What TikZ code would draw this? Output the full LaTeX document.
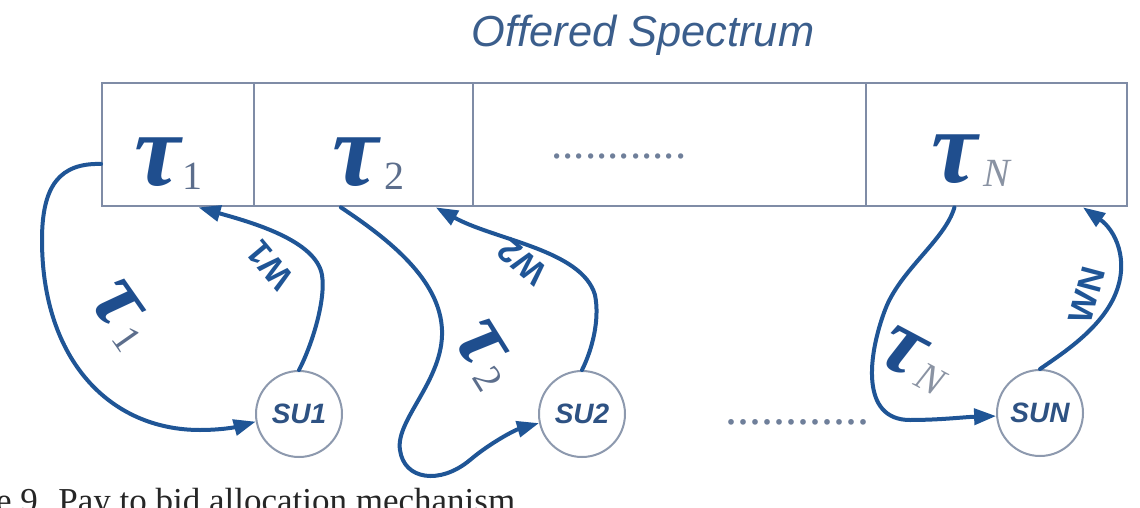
\documentclass[tikz,border=0pt]{standalone}
\usepackage{fontspec}
\setmainfont{Liberation Serif}
\setsansfont{Liberation Sans}
\usetikzlibrary{arrows.meta}
\definecolor{arrc}{HTML}{1F5596}
\definecolor{tauc}{HTML}{1F4E8E}
\definecolor{titlec}{HTML}{3B5E8C}
\definecolor{boxc}{HTML}{7F8CA6}
\definecolor{circc}{HTML}{8D99AE}
\definecolor{subc}{HTML}{5C6E8C}
\definecolor{subn}{HTML}{8A93A3}
\definecolor{suc}{HTML}{2E5283}
\definecolor{dotc}{HTML}{6F7F9A}
\newcommand\mysub[2][subc]{{\normalfont\fontsize{20}{20}\selectfont\color{#1}\raisebox{-2pt}{#2}}}
\begin{document}
\begin{tikzpicture}[x=0.5pt,y=-0.5pt,
  cell/.style={draw=boxc, line width=1.2pt, minimum height=61.5pt, inner sep=0pt, anchor=north west},
  taut/.style={text=tauc, font=\fontsize{52}{52}\selectfont\bfseries\itshape, inner sep=0pt},
  taulab/.style={text=tauc, font=\fontsize{46}{46}\selectfont\bfseries\itshape, inner sep=0pt},
  wlab/.style={text=arrc, font=\sffamily\bfseries\fontsize{17}{17}\selectfont, inner sep=0pt},
  su/.style={circle, draw=circc, line width=1pt, minimum size=43pt, inner sep=0pt, fill=white,
    text=suc, font=\sffamily\bfseries\itshape\fontsize{14}{14}\selectfont},
  dotrow/.style={text=dotc, inner sep=0pt, anchor=base west},
  arr/.style={draw=arrc, line width=2pt, line cap=round, -{Triangle[length=11pt,width=8pt]}}
]
\useasboundingbox (0,0) rectangle (1140,508);
\fill[white] (0,0) rectangle (1140,508);

% title
\node[text=titlec, font=\sffamily\itshape\fontsize{21.7}{24}\selectfont, anchor=base, inner sep=0pt] (title) at (643,47) {Offered Spectrum};

% spectrum cells
\node[cell, minimum width=76pt] (c1) at (101,82) {};
\node[cell, minimum width=109.5pt] (c2) at (253,82) {};
\node[cell, minimum width=196.5pt] (c3) at (472,82) {};
\node[cell, minimum width=130.5pt] (c4) at (865,82) {};

\node[taut, anchor=base west] (tau1) at (134,185) {τ\hspace{1pt}\mysub{1}};
\node[taut, anchor=base west] (tau2) at (332,185) {τ\hspace{3pt}\mysub{2}};
\node[taut, anchor=base west] (tauN) at (931,182) {τ\hspace{3pt}\mysub[subn]{\itshape N}};
\node[dotrow, font=\fontsize{22.5}{22.5}\selectfont] (dotsA) at (551,158) {............};

% secondary users
\node[su] (SU1) at (299,414) {SU1};
\node[su] (SU2) at (582,414) {SU2};
\node[su] (SUN) at (1040,413) {SUN};
\node[dotrow, font=\fontsize{24}{24}\selectfont] (dotsB) at (725,424) {............};

% tau_1 -> SU1
\draw[arr] (c1.194) .. controls (60,163) and (42,185) .. (42,240)
  .. controls (42,360) and (110,430) .. (200,430)
  .. controls (225,430) and (240,426) .. (SU1.190);
% SU1 -> tau_1 (W1)
\draw[arr] (SU1.north) .. controls (312,345) and (326,300) .. (322,275)
  .. controls (316,240) and (250,222) .. (c1.-72);

% tau_2 -> SU2
\draw[arr] (c2.-110) .. controls (390,240) and (440,280) .. (442,330)
  .. controls (444,380) and (395,420) .. (400,450)
  .. controls (404,480) and (440,485) .. (470,460)
  .. controls (490,443) and (515,430) .. (SU2.192);
% SU2 -> tau_2 (W2)
\draw[arr] (SU2.north) .. controls (592,350) and (600,320) .. (595,295)
  .. controls (582,250) and (495,240) .. (c2.-41.5);

% tau_N -> SUN
\draw[arr] (c4.-124) .. controls (945,240) and (900,270) .. (885,310)
  .. controls (868,355) and (860,420) .. (910,420)
  .. controls (940,420) and (965,417) .. (SUN.184);
% SUN -> tau_N (WN)
\draw[arr] (SUN.north) .. controls (1060,355) and (1100,330) .. (1115,295)
  .. controls (1130,260) and (1115,230) .. (c4.-36);

% labels on connectors
\node[taulab, rotate=-55] (lt1) at (122,315) {τ\hspace{2pt}\mysub{1}};
\node[taulab, rotate=-58] (lt2) at (485,355) {τ\hspace{2pt}\mysub{2}};
\node[taulab, rotate=-28] (ltN) at (915,360) {τ\hspace{2pt}\mysub[subn]{\itshape N}};
\node[wlab, rotate=130] (lw1) at (270,265) {W1};
\node[wlab, rotate=140] (lw2) at (522,262) {W2};
\node[wlab, rotate=75] (lwN) at (1087,295) {WN};

% caption (cut off by the picture's lower and left edges)
\begin{scope}
\clip (0,0) rectangle (1140,508);
\node[anchor=base west, inner sep=0pt, font=\fontsize{17.5}{18}\selectfont, text=black!85] (caption) at (20,512) {\llap{Figure }9. Pay to bid allocation mechanism};
\end{scope}
\end{tikzpicture}
\end{document}
